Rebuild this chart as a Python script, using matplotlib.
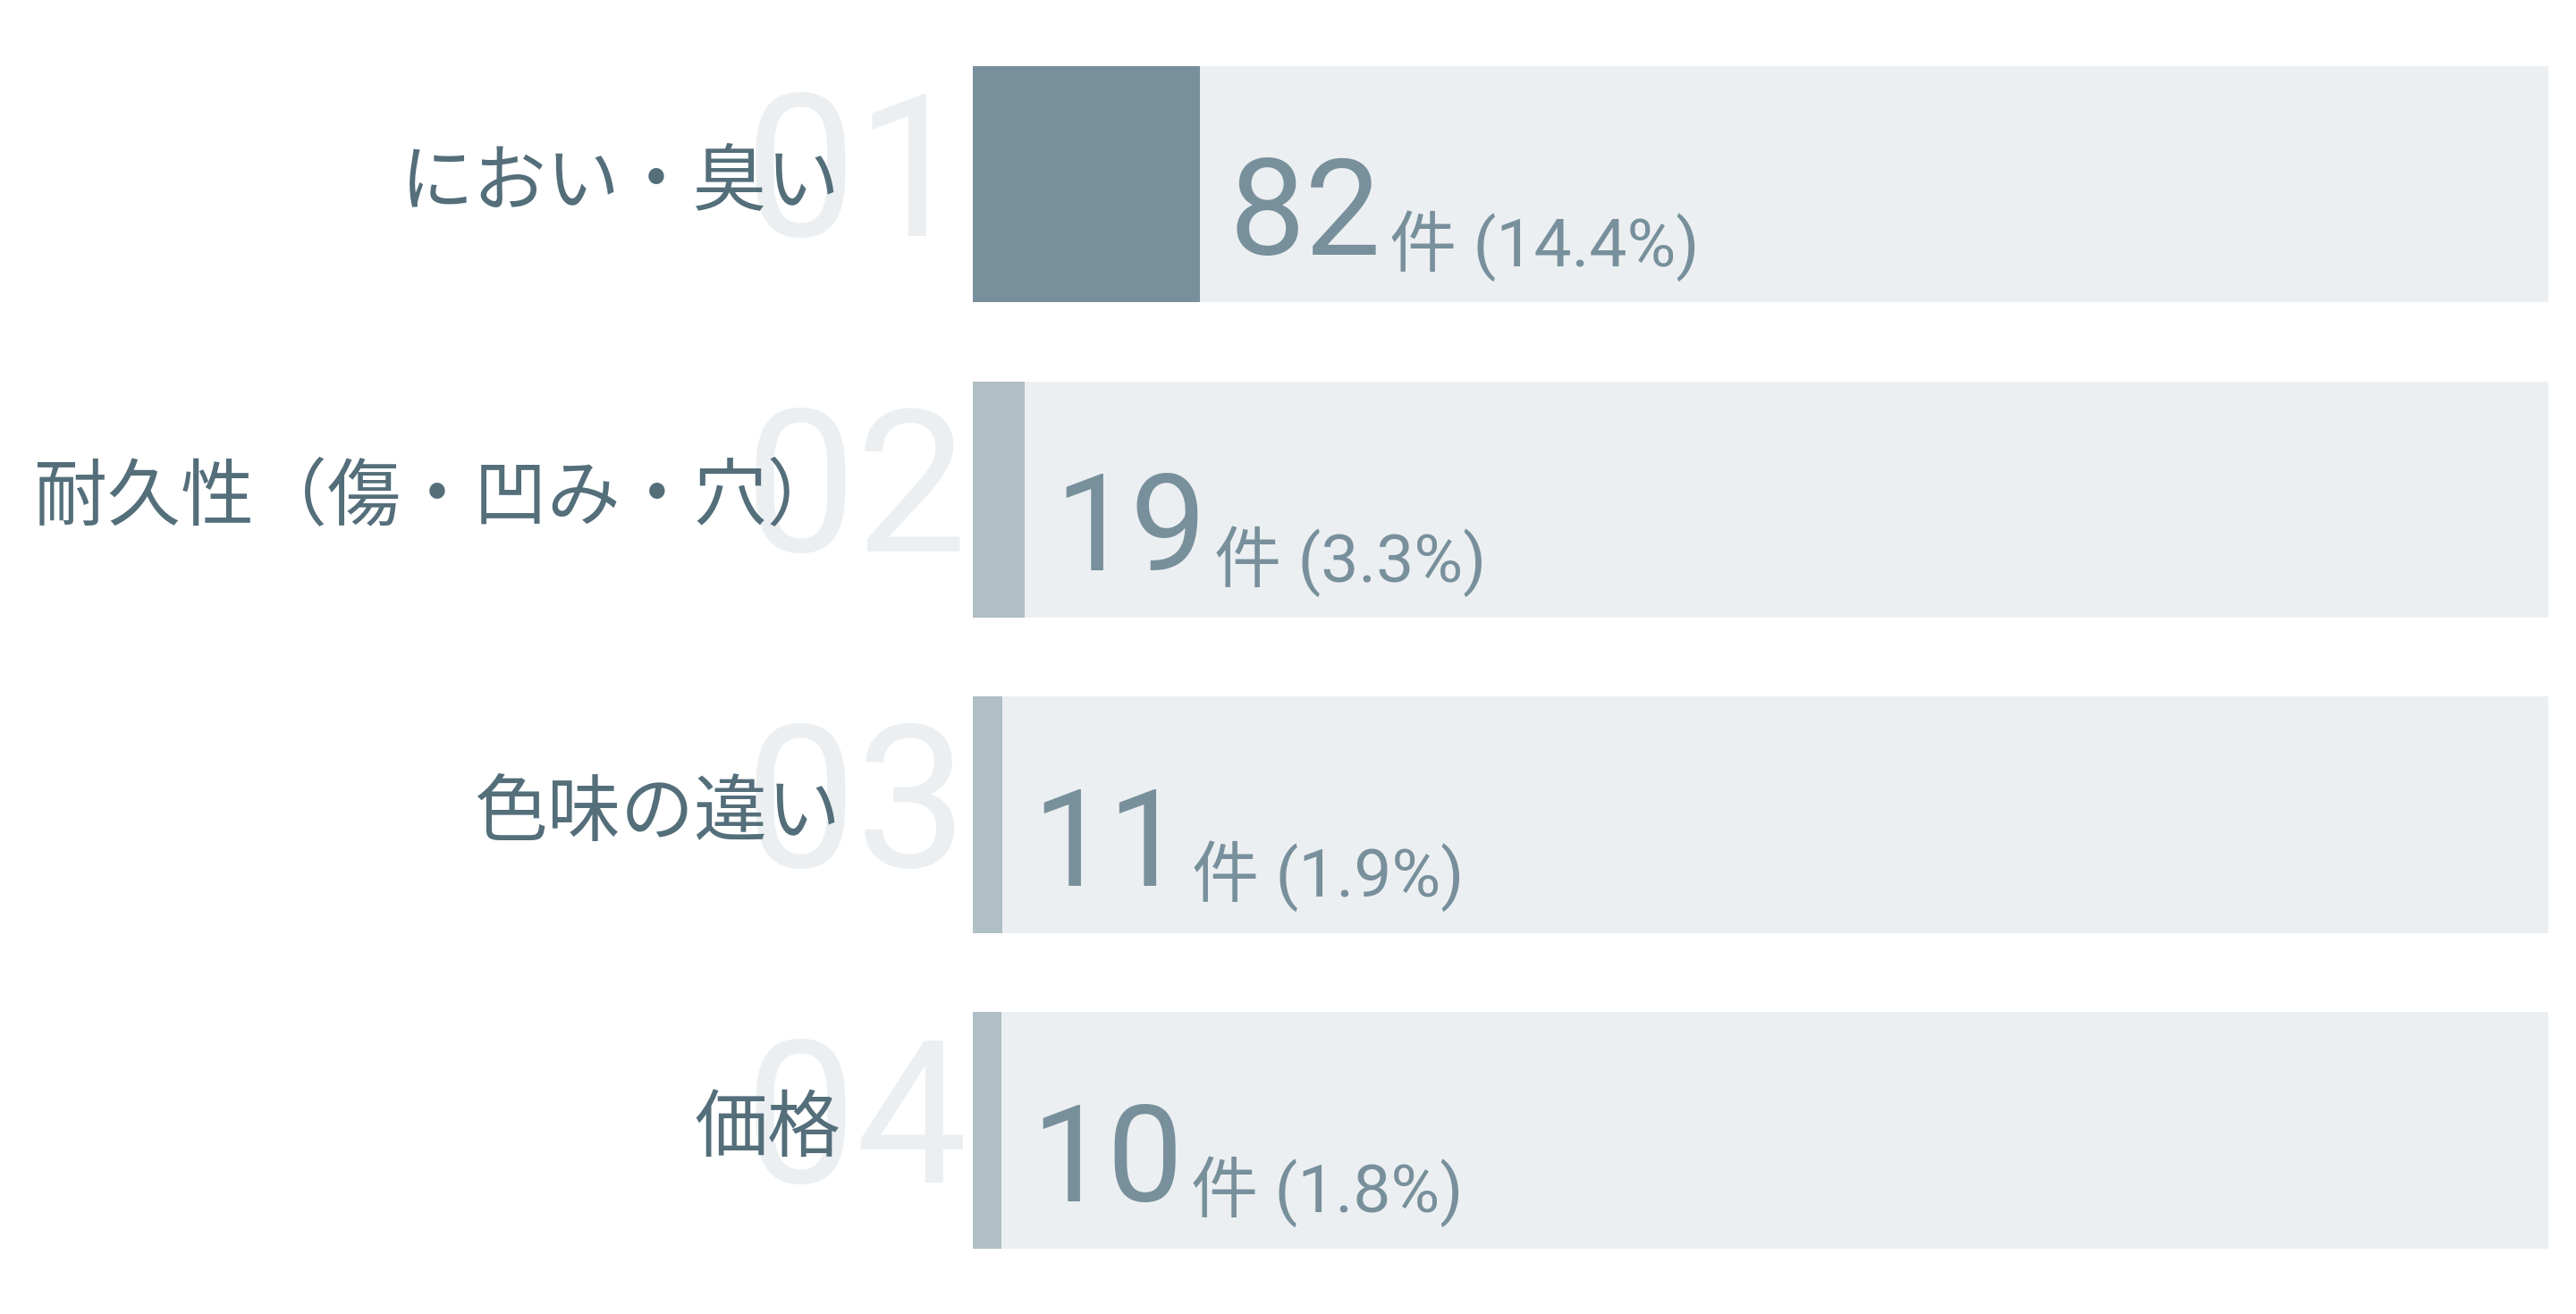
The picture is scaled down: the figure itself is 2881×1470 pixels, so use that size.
import matplotlib.pyplot as plt
from matplotlib.transforms import blended_transform_factory

# ---------------------------------------------------------------------
# Data
# ---------------------------------------------------------------------
labels = ["におい・臭い", "耐久性（傷・凹み・穴）", "色味の違い", "価格"]
ranks = ["01", "02", "03", "04"]
counts = [82, 19, 11, 10]
shares = [14.4, 3.3, 1.9, 1.8]

BAR_TOP = "#78909c"
BAR_REST = "#b0bec5"
TRACK = "#eceff1"
RANK = "#eceff1"
LABEL = "#546e7a"
VALUE = "#78909c"

JP = ["Noto Sans CJK JP", "DejaVu Sans"]
NUM = ["Roboto", "Noto Sans CJK JP"]

W, H = 2881, 1470
fig = plt.figure(figsize=(W / 100, H / 100), dpi=100)
ax = fig.add_axes([1088 / W, 0, 1762 / W, 1])
ax.set_xlim(0, 100)
ax.set_ylim(3.583, -0.584)
ax.axis("off")

y = list(range(len(labels)))
ax.barh(y, [100] * len(labels), height=0.75, color=TRACK, zorder=1)
colors = [BAR_TOP] + [BAR_REST] * (len(labels) - 1)
ax.barh(y, shares, height=0.75, color=colors, zorder=2)

fx = blended_transform_factory(fig.transFigure, ax.transData)

for i, (lab, rk, c, s) in enumerate(zip(labels, ranks, counts, shares)):
    # big faint rank number behind the label
    ax.annotate(
        rk,
        xy=(1082 / W, i),
        xycoords=fx,
        xytext=(0, -42),
        textcoords="offset points",
        ha="right",
        va="baseline",
        fontsize=160,
        family=NUM,
        color=RANK,
        zorder=3,
        annotation_clip=False,
    )
    ax.annotate(
        lab,
        xy=(940 / W, i),
        xycoords=fx,
        xytext=(0, 1),
        textcoords="offset points",
        ha="right",
        va="center",
        fontsize=59,
        family=JP,
        color=LABEL,
        zorder=4,
        annotation_clip=False,
    )
    big = ax.annotate(
        f"{c}",
        xy=(s, i),
        xytext=(24, -57),
        textcoords="offset points",
        ha="left",
        va="baseline",
        fontsize=109,
        family=NUM,
        color=VALUE,
        zorder=4,
    )
    ax.annotate(
        f"件 ({s}%)",
        xy=(1, i),
        xycoords=(big, ax.transData),
        xytext=(6, -66),
        textcoords="offset points",
        ha="left",
        va="baseline",
        fontsize=54,
        family=NUM,
        color=VALUE,
        zorder=4,
    )

fig.savefig("out.png", dpi=100, facecolor="white")
